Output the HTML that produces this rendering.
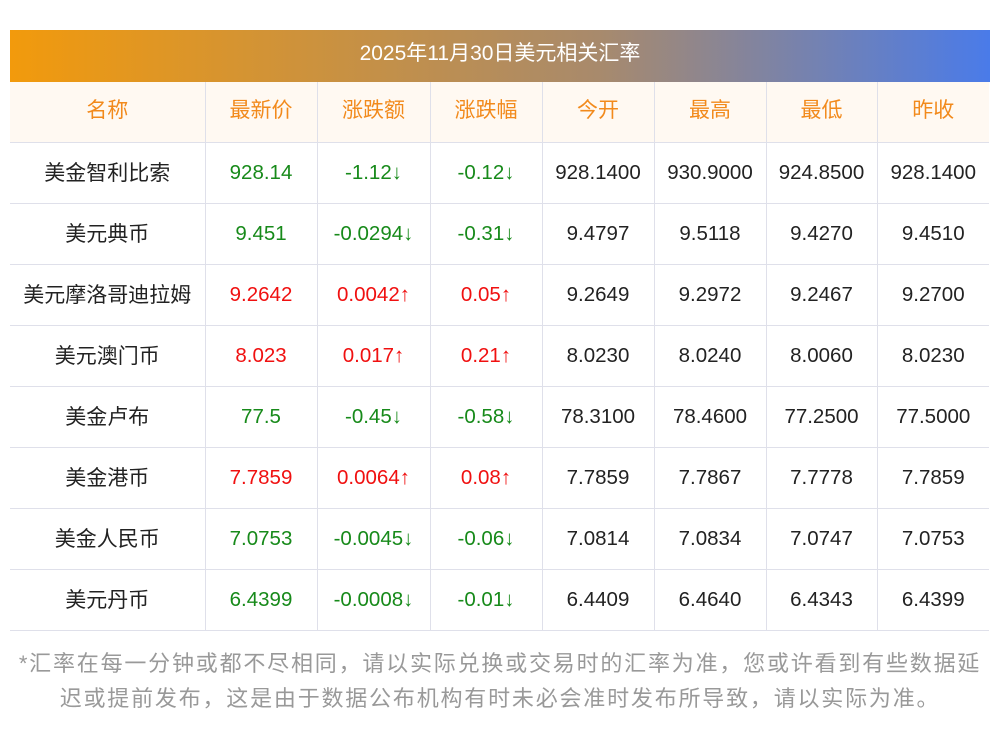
<!DOCTYPE html>
<html><head><meta charset="utf-8"><style>
body{margin:0;width:1000px;height:733px;background:#fff;font-family:"Liberation Sans","Noto Sans CJK SC",sans-serif;position:relative;overflow:hidden}
.bar{position:absolute;left:10px;top:30px;width:980px;height:52px;background:linear-gradient(90deg,#f29a0c,#a88a6c 60%,#4a7be9);color:#fff;font-size:21px;text-align:center;line-height:48px}
table{position:absolute;left:10px;top:82px;width:979px;border-collapse:collapse;table-layout:fixed}
td{border:1px solid #dfe0ea;height:60px;text-align:center;font-size:20.5px;color:#222;padding:0}
td.c span{position:relative;top:-1px;font-size:21px}
tr td:first-child{border-left:none}
tr td:last-child{border-right:none}
tr:first-child td{border-top:none;background:#fff9f2;color:#f28a1c;font-size:21px}
tr:first-child td span{position:relative;top:-3px}
.g{color:#178a1a}.r{color:#f01010}
.note{position:absolute;left:10px;top:646px;width:980px;color:#999;font-size:22px;line-height:35px;text-align:center;letter-spacing:1.8px;white-space:nowrap}
</style></head><body>
<div class="bar">2025年11月30日美元相关汇率</div>
<table>
<colgroup><col style="width:195px"><col style="width:112px"><col style="width:113px"><col style="width:112px"><col style="width:112px"><col style="width:112px"><col style="width:111px"><col style="width:112px"></colgroup>
<tr><td><span>名称</span></td><td><span>最新价</span></td><td><span>涨跌额</span></td><td><span>涨跌幅</span></td><td><span>今开</span></td><td><span>最高</span></td><td><span>最低</span></td><td><span>昨收</span></td></tr>
<tr><td class="c"><span>美金智利比索</span></td><td class="g">928.14</td><td class="g">-1.12↓</td><td class="g">-0.12↓</td><td>928.1400</td><td>930.9000</td><td>924.8500</td><td>928.1400</td></tr>
<tr><td class="c"><span>美元典币</span></td><td class="g">9.451</td><td class="g">-0.0294↓</td><td class="g">-0.31↓</td><td>9.4797</td><td>9.5118</td><td>9.4270</td><td>9.4510</td></tr>
<tr><td class="c"><span>美元摩洛哥迪拉姆</span></td><td class="r">9.2642</td><td class="r">0.0042↑</td><td class="r">0.05↑</td><td>9.2649</td><td>9.2972</td><td>9.2467</td><td>9.2700</td></tr>
<tr><td class="c"><span>美元澳门币</span></td><td class="r">8.023</td><td class="r">0.017↑</td><td class="r">0.21↑</td><td>8.0230</td><td>8.0240</td><td>8.0060</td><td>8.0230</td></tr>
<tr><td class="c"><span>美金卢布</span></td><td class="g">77.5</td><td class="g">-0.45↓</td><td class="g">-0.58↓</td><td>78.3100</td><td>78.4600</td><td>77.2500</td><td>77.5000</td></tr>
<tr><td class="c"><span>美金港币</span></td><td class="r">7.7859</td><td class="r">0.0064↑</td><td class="r">0.08↑</td><td>7.7859</td><td>7.7867</td><td>7.7778</td><td>7.7859</td></tr>
<tr><td class="c"><span>美金人民币</span></td><td class="g">7.0753</td><td class="g">-0.0045↓</td><td class="g">-0.06↓</td><td>7.0814</td><td>7.0834</td><td>7.0747</td><td>7.0753</td></tr>
<tr><td class="c"><span>美元丹币</span></td><td class="g">6.4399</td><td class="g">-0.0008↓</td><td class="g">-0.01↓</td><td>6.4409</td><td>6.4640</td><td>6.4343</td><td>6.4399</td></tr>
</table>
<div class="note">*汇率在每一分钟或都不尽相同，请以实际兑换或交易时的汇率为准，您或许看到有些数据延<br>迟或提前发布，这是由于数据公布机构有时未必会准时发布所导致，请以实际为准。</div>
</body></html>
